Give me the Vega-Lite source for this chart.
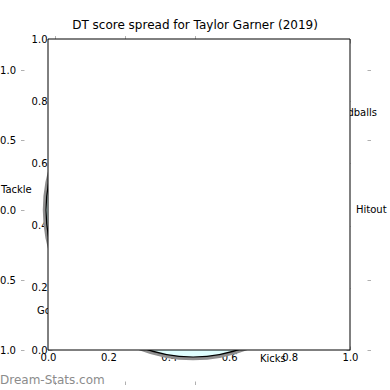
{
  "$schema": "https://vega.github.io/schema/vega-lite/v6.json",
  "width": 302,
  "height": 311,
  "autosize": {"type": "none"},
  "padding": {"left": 48, "top": 39, "right": 40, "bottom": 40},
  "background": "white",
  "title": {
    "text": "DT score spread for Taylor Garner (2019)",
    "font": "DejaVu Sans",
    "fontSize": 12,
    "fontWeight": "normal",
    "color": "black",
    "anchor": "middle",
    "baseline": "alphabetic",
    "offset": 9,
    "dx": -4,
    "dy": 16
  },
  "config": {
    "view": {"stroke": null},
    "axis": {
      "labelFont": "DejaVu Sans",
      "labelFontSize": 10,
      "labelColor": "black",
      "tickColor": "#b0b0b0",
      "tickWidth": 1,
      "domain": false,
      "grid": false,
      "title": null,
      "zindex": 1,
      "labelFlush": false,
      "labelOverlap": false
    }
  },
  "datasets": {
    "frame": [{"x0": 0, "x1": 1, "y0": 0, "y1": 1}],
    "spread": [{"cx": -0.014, "cy": 0}],
    "labels": [
      {"x": -1.386, "y": 0.143, "label": "Tackle"},
      {"x": 1.15, "y": 0.0, "label": "Hitout"},
      {"x": 0.946, "y": 0.693, "label": "Handballs"},
      {"x": -1.129, "y": -0.721, "label": "Goals"},
      {"x": 0.464, "y": -1.064, "label": "Kicks"}
    ],
    "brand": [{"x": -1.393, "y": -1.214, "t": "Dream-Stats.com"}]
  },
  "resolve": {
    "scale": {"x": "independent", "y": "independent"},
    "axis": {"x": "independent", "y": "independent"}
  },
  "layer": [
    {
      "data": {"name": "spread"},
      "mark": {"type": "point", "shape": "circle", "size": 88209, "filled": false, "fill": null, "stroke": "#8f8f8f", "strokeWidth": 3.5, "opacity": 1},
      "encoding": {
        "x": {"field": "cx", "type": "quantitative",
          "scale": {"domain": [-1.05, 1.1071428571], "nice": false, "zero": false},
          "axis": {"orient": "bottom", "offset": 31, "values": [-1, -0.5, 0], "format": ".1f", "tickSize": 3.5, "labelPadding": 5}},
        "y": {"field": "cy", "type": "quantitative",
          "scale": {"domain": [-1, 1.2214285714], "nice": false, "zero": false},
          "axis": {"orient": "left", "offset": 24, "values": [-1, -0.5, 0, 0.5, 1], "format": ".1f", "tickSize": 3.5, "labelPadding": 5}}
      }
    },
    {
      "data": {"name": "spread"},
      "mark": {"type": "point", "shape": "circle", "size": 86436, "filled": true, "fill": "#e0ffff", "stroke": "black", "strokeWidth": 1.2, "opacity": 1},
      "encoding": {
        "x": {"field": "cx", "type": "quantitative",
          "scale": {"domain": [-1.05, 1.1071428571], "nice": false, "zero": false},
          "axis": {"orient": "top", "offset": 0, "values": [-1, -0.5, 0], "labels": false, "tickSize": 3.5}},
        "y": {"field": "cy", "type": "quantitative",
          "scale": {"domain": [-1, 1.2214285714], "nice": false, "zero": false},
          "axis": {"orient": "right", "offset": 17, "values": [-1, -0.5, 0, 0.5, 1], "labels": false, "tickSize": 3.5}}
      }
    },
    {
      "data": {"name": "labels"},
      "mark": {"type": "text", "font": "DejaVu Sans", "fontSize": 10, "color": "black", "align": "left", "baseline": "middle"},
      "encoding": {
        "x": {"field": "x", "type": "quantitative", "scale": {"domain": [-1.05, 1.1071428571], "nice": false, "zero": false}, "axis": null},
        "y": {"field": "y", "type": "quantitative", "scale": {"domain": [-1, 1.2214285714], "nice": false, "zero": false}, "axis": null},
        "text": {"field": "label"}
      }
    },
    {
      "data": {"name": "brand"},
      "mark": {"type": "text", "font": "DejaVu Sans", "fontSize": 12, "color": "#8c8c8c", "align": "left", "baseline": "middle"},
      "encoding": {
        "x": {"field": "x", "type": "quantitative", "scale": {"domain": [-1.05, 1.1071428571], "nice": false, "zero": false}, "axis": null},
        "y": {"field": "y", "type": "quantitative", "scale": {"domain": [-1, 1.2214285714], "nice": false, "zero": false}, "axis": null},
        "text": {"field": "t"}
      }
    },
    {
      "data": {"name": "frame"},
      "mark": {"type": "rect", "fill": "white", "stroke": null, "opacity": 1},
      "encoding": {
        "x": {"field": "x0", "type": "quantitative", "scale": {"domain": [0, 1], "nice": false, "zero": false},
          "axis": {"orient": "bottom", "values": [0, 0.2, 0.4, 0.6, 0.8, 1], "format": ".1f", "tickSize": -4, "labelPadding": 6}},
        "x2": {"field": "x1"},
        "y": {"field": "y0", "type": "quantitative", "scale": {"domain": [0, 1], "nice": false, "zero": false},
          "axis": {"orient": "left", "values": [0, 0.2, 0.4, 0.6, 0.8, 1], "format": ".1f", "tickSize": -4, "labelPadding": 5}},
        "y2": {"field": "y1"}
      }
    },
    {
      "data": {"name": "frame"},
      "mark": {"type": "rect", "fill": null, "fillOpacity": 0, "stroke": "black", "strokeWidth": 1, "opacity": 1},
      "encoding": {
        "x": {"field": "x0", "type": "quantitative", "scale": {"domain": [0, 1], "nice": false, "zero": false},
          "axis": {"orient": "top", "values": [0, 0.2, 0.4, 0.6, 0.8, 1], "labels": false, "tickSize": -4}},
        "x2": {"field": "x1"},
        "y": {"field": "y0", "type": "quantitative", "scale": {"domain": [0, 1], "nice": false, "zero": false},
          "axis": {"orient": "right", "values": [0, 0.2, 0.4, 0.6, 0.8, 1], "labels": false, "tickSize": -4}},
        "y2": {"field": "y1"}
      }
    }
  ]
}
